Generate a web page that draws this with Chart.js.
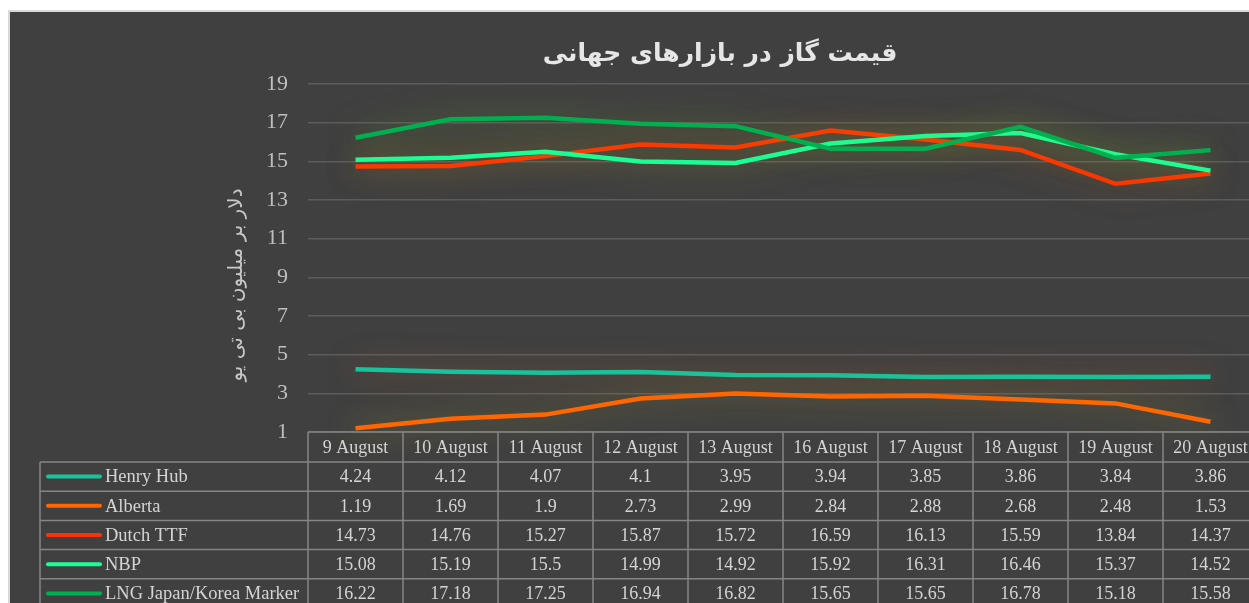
<!DOCTYPE html>
<html>
<head>
<meta charset="utf-8">
<script src="https://cdn.jsdelivr.net/npm/chart.js@4"></script>
<style>
  html, body { margin: 0; padding: 0; background: #fff; overflow: hidden; }
  #gas-chart { position: absolute; left: 0; top: 0; }
</style>
</head>
<body>
<canvas id="gas-chart" width="1280" height="603"></canvas>
<script>
var categories = ['9 August', '10 August', '11 August', '12 August', '13 August',
                  '16 August', '17 August', '18 August', '19 August', '20 August'];
var seriesNames = ['Henry Hub', 'Alberta', 'Dutch TTF', 'NBP', 'LNG Japan/Korea Marker'];
var henryHub = [4.24, 4.12, 4.07, 4.1, 3.95, 3.94, 3.85, 3.86, 3.84, 3.86];
var alberta = [1.19, 1.69, 1.9, 2.73, 2.99, 2.84, 2.88, 2.68, 2.48, 1.53];
var dutchTTF = [14.73, 14.76, 15.27, 15.87, 15.72, 16.59, 16.13, 15.59, 13.84, 14.37];
var nbp = [15.08, 15.19, 15.5, 14.99, 14.92, 15.92, 16.31, 16.46, 15.37, 14.52];
var lngMarker = [16.22, 17.18, 17.25, 16.94, 16.82, 15.65, 15.65, 16.78, 15.18, 15.58];
var yTicks = { min: 1, max: 19, step: 2 };

var titleText = 'قیمت گاز در بازارهای جهانی';
var yTitleText = 'دلار بر میلیون بی تی یو';

var lineColors = ['#17c39b', '#ff6600', '#ff3300', '#1aff95', '#00b050'];
var glowColors = ['rgba(215,100,40,0.55)', 'rgba(195,185,40,0.55)', 'rgba(225,115,30,0.5)',
                  'rgba(175,195,40,0.5)', 'rgba(130,195,40,0.5)'];
var textColor = '#d4d4d4';
var serif = '"Liberation Serif", "Times New Roman", serif';

var seriesValues = [henryHub, alberta, dutchTTF, nbp, lngMarker];

var chromePlugin = {
    id: 'chrome',
    beforeDraw(chart) {
        var c = chart.ctx;
        c.save();
        c.fillStyle = '#ffffff';
        c.fillRect(0, 0, chart.width, chart.height);
        c.fillStyle = '#404040';
        c.fillRect(9, 11, chart.width, chart.height);
        c.strokeStyle = '#d9d9d9';
        c.lineWidth = 2;
        c.beginPath();
        c.moveTo(9, chart.height);
        c.lineTo(9, 11);
        c.lineTo(chart.width, 11);
        c.stroke();

        c.fillStyle = '#e6e6e6';
        c.font = 'bold 25px "DejaVu Sans", sans-serif';
        c.textAlign = 'center';
        c.textBaseline = 'middle';
        c.fillText(titleText, 720, 54);

        c.translate(237, 285);
        c.rotate(-Math.PI / 2);
        c.fillStyle = '#c8c8c8';
        c.font = '20px "DejaVu Sans", sans-serif';
        c.fillText(yTitleText, 0, 0);
        c.restore();
    }
};

var glowPlugin = {
    id: 'glow',
    beforeDatasetDraw(chart, args) {
        var c = chart.ctx;
        c.save();
        c.shadowColor = glowColors[args.index];
        c.shadowBlur = 30;
    },
    afterDatasetDraw(chart) {
        chart.ctx.restore();
    }
};

var tablePlugin = {
    id: 'dataTable',
    afterDraw(chart) {
        var c = chart.ctx;
        var x = chart.scales.x;
        var half = (x.getPixelForValue(1) - x.getPixelForValue(0)) / 2;
        var top = chart.chartArea.bottom;
        var headH = 30, rowH = 29.2;
        var left = 40;
        var colLeft = x.getPixelForValue(0) - half;
        var colRight = x.getPixelForValue(categories.length - 1) + half;
        var bottom = top + headH + rowH * seriesNames.length;

        c.save();
        c.strokeStyle = '#858585';
        c.lineWidth = 1.5;
        c.beginPath();
        // header row
        c.moveTo(colLeft, top); c.lineTo(colRight, top);
        for (var i = 0; i <= categories.length; i++) {
            var cx = colLeft + i * half * 2;
            c.moveTo(cx, top); c.lineTo(cx, bottom);
        }
        for (var r = 0; r <= seriesNames.length; r++) {
            var ry = top + headH + r * rowH;
            c.moveTo(left, ry); c.lineTo(colRight, ry);
        }
        c.moveTo(left, top + headH); c.lineTo(left, bottom);
        c.stroke();

        c.fillStyle = textColor;
        c.font = '18px ' + serif;
        c.textAlign = 'center';
        c.textBaseline = 'middle';
        categories.forEach(function (cat, i) {
            c.fillText(cat, x.getPixelForValue(i), top + headH / 2 + 1);
        });
        seriesNames.forEach(function (name, r) {
            var cy = top + headH + r * rowH + rowH / 2 + 1;
            c.textAlign = 'center';
            c.fillStyle = textColor;
            c.font = '18px ' + serif;
            seriesValues[r].forEach(function (v, i) {
                c.fillText(String(v), x.getPixelForValue(i), cy);
            });
            c.strokeStyle = lineColors[r];
            c.lineWidth = 4;
            c.lineCap = 'round';
            c.beginPath();
            c.moveTo(48, cy - 1); c.lineTo(100, cy - 1);
            c.stroke();
            c.textAlign = 'left';
            c.font = '18.5px ' + serif;
            c.fillText(name, 105, cy);
        });
        c.restore();
    }
};

var ctx = document.getElementById('gas-chart').getContext('2d');
var gasChart = new Chart(ctx, {
    type: 'line',
    data: {
        labels: categories,
        datasets: seriesNames.map((name, i) => ({
            label: name,
            data: seriesValues[i],
            borderColor: lineColors[i],
            backgroundColor: lineColors[i],
            borderWidth: 4.5,
            pointRadius: 0,
            tension: 0,
            clip: false,
            order: seriesNames.length - i
        }))
    },
    options: {
        responsive: false,
        animation: false,
        layout: {
            padding: { left: 248, right: 22, top: 84, bottom: 171 }
        },
        plugins: {
            legend: { display: false },
            title: { display: false },
            tooltip: { enabled: false }
        },
        scales: {
            x: {
                type: 'category',
                display: false,
                offset: true
            },
            y: {
                min: yTicks.min,
                max: yTicks.max,
                afterFit(scale) { scale.width = 60; },
                ticks: {
                    stepSize: yTicks.step,
                    padding: 20,
                    color: '#bfbfbf',
                    font: { family: serif, size: 22 }
                },
                grid: { color: '#5c5c5c', lineWidth: 1.5, drawTicks: false },
                border: { display: false }
            }
        }
    },
    plugins: [chromePlugin, glowPlugin, tablePlugin]
});
</script>
</body>
</html>
